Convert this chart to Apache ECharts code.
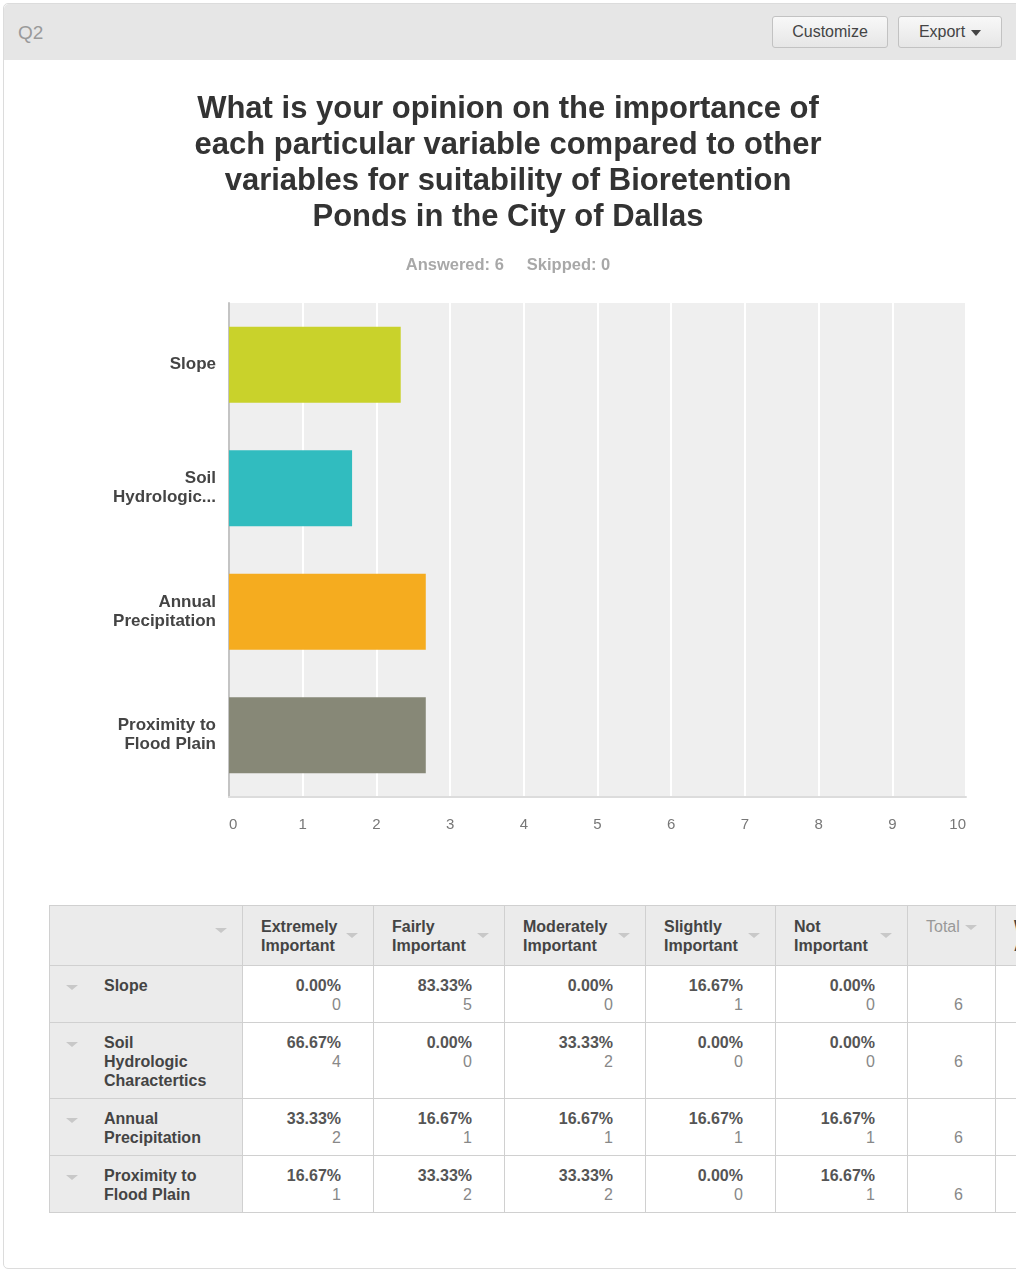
<!DOCTYPE html>
<html>
<head>
<meta charset="utf-8">
<title>Q2</title>
<script src="https://cdn.jsdelivr.net/npm/echarts@6/dist/echarts.min.js"></script>
<style>
html, body { margin: 0; padding: 0; width: 1016px; height: 1270px; overflow: hidden; background: #fff;
  font-family: "Liberation Sans", Arial, sans-serif; }
.frame { position: absolute; left: 3px; top: 3px; width: 1060px; height: 1264px; border: 1px solid #dcdcdc; border-radius: 5px; }
.head { position: absolute; left: 0; top: 0; right: 0; height: 56px; background: #e6e6e6; border-radius: 5px 5px 0 0; }
.q { position: absolute; left: 14px; top: 18px; font-size: 19px; color: #9a9a9a; }
.btn { position: absolute; top: 12px; height: 32px; box-sizing: border-box; border: 1px solid #c2c2c2; border-radius: 3px;
  background: linear-gradient(#f8f8f8, #e6e6e6); font-size: 16px; color: #444; line-height: 30px; text-align: center; }
.caret { display: inline-block; width: 0; height: 0; border-left: 5px solid transparent; border-right: 5px solid transparent;
  border-top: 6px solid #444; vertical-align: middle; margin-left: 6px; }
#chart { position: absolute; left: 0; top: 0; width: 1016px; height: 870px; }
.wrap { position: absolute; left: 49px; top: 905px; width: 1200px; }
table { border-collapse: collapse; table-layout: fixed; font-size: 16px; }
th, td { border: 1px solid #d0d0d0; vertical-align: top; line-height: 19px; padding: 10px 32px 8px 18px; position: relative;
  white-space: nowrap; overflow: hidden; }
th { background: #ebebeb; text-align: left; color: #444; font-weight: bold; padding-top: 11px; }
th.tot { color: #999; font-weight: normal; }
td.lab { background: #ebebeb; color: #444; font-weight: bold; padding-left: 54px; padding-right: 10px; }
td.val { text-align: right; }
td.tot { text-align: right; padding-top: 29px; color: #888; }
.pct { font-weight: bold; color: #555; }
.cnt { color: #888; }
.tri { position: absolute; width: 0; height: 0; border-left: 6px solid transparent; border-right: 6px solid transparent;
  border-top: 5px solid #c8c8c8; }
.tri.inl { position: static; display: inline-block; vertical-align: middle; margin-left: 5px; }
</style>
</head>
<body>
<div class="frame">
  <div class="head">
    <div class="q">Q2</div>
    <div class="btn" style="left:768px;width:116px;">Customize</div>
    <div class="btn" style="left:894px;width:104px;">Export<span class="caret"></span></div>
  </div>
</div>
<div id="chart"></div>
<div class="wrap"><table id="tbl"></table></div>
<script>
// question + answered / skipped
var titleLines = [
  "What is your opinion on the importance of",
  "each particular variable compared to other",
  "variables for suitability of Bioretention",
  "Ponds in the City of Dallas"
];
var answered = 6;
var skipped = 0;

// rows
var categories = ["Slope", "Soil\nHydrologic\nCharactertics", "Annual\nPrecipitation", "Proximity to\nFlood Plain"];
var axisNames = ["Slope", "Soil\nHydrologic...", "Annual\nPrecipitation", "Proximity to\nFlood Plain"];
var barColors = ["#c9d22b", "#31bcbf", "#f5ac1f", "#878877"];

// weighted average, drawn as the bars
var weightedAvg = [2.33, 1.67, 2.67, 2.67];
var xTicks = [0, 10, 1]; // min, max, step

// table columns
var choices = ["Extremely\nImportant", "Fairly\nImportant", "Moderately\nImportant", "Slightly\nImportant", "Not\nImportant"];
var rowPercents = [
  ["0.00%", "83.33%", "0.00%", "16.67%", "0.00%"],
  ["66.67%", "0.00%", "33.33%", "0.00%", "0.00%"],
  ["33.33%", "16.67%", "16.67%", "16.67%", "16.67%"],
  ["16.67%", "33.33%", "33.33%", "0.00%", "16.67%"]
];
var rowCounts = [
  [0, 5, 0, 1, 0],
  [4, 0, 2, 0, 0],
  [2, 1, 1, 1, 1],
  [1, 2, 2, 0, 1]
];
var totals = [6, 6, 6, 6];

var colWidths = [193, 131, 131, 141, 130, 132, 88, 140];

// ---- table ----
var tbl = document.getElementById("tbl");
var tw = colWidths.reduce(function (a, b) { return a + b; }, 0);
tbl.style.width = tw + "px";
var html = "<colgroup>";
colWidths.forEach(function (w) { html += '<col style="width:' + w + 'px">'; });
html += "</colgroup>";
html += '<tr style="height:60px"><th><span class="tri" style="right:15px;top:22px"></span></th>';
choices.forEach(function (c) {
  html += "<th>" + c.replace("\n", "<br>") + '<span class="tri" style="right:15px;top:27px"></span></th>';
});
html += '<th class="tot">Total<span class="tri inl"></span></th>';
html += "<th>Weighted<br>Average</th></tr>";
categories.forEach(function (name, i) {
  html += '<tr><td class="lab"><span class="tri" style="left:16px;top:19px"></span>' + name.split("\n").join("<br>") + "</td>";
  rowCounts[i].forEach(function (n, j) {
    html += '<td class="val"><div class="pct">' + rowPercents[i][j] + '</div><div class="cnt">' + n + "</div></td>";
  });
  html += '<td class="tot">' + totals[i] + "</td>";
  html += '<td class="tot">' + weightedAvg[i].toFixed(2) + "</td></tr>";
});
tbl.innerHTML = html;

// ---- chart ----
var font = '"Liberation Sans", Arial, sans-serif';
var chartObj = echarts.init(document.getElementById("chart"));
var option = {
  animation: false,
  textStyle: { fontFamily: font },
  title: [
    {
      text: titleLines.join("\n"),
      left: "center",
      top: 86,
      textStyle: { fontSize: 31, fontWeight: "bold", color: "#333", lineHeight: 36, fontFamily: font }
    },
    {
      text: "Answered: " + answered + "     Skipped: " + skipped,
      left: "center",
      top: 252,
      textStyle: { fontSize: 16.5, fontWeight: "bold", color: "#a8a8a8", fontFamily: font }
    }
  ],
  grid: {
    left: 229,
    right: 50,
    top: 303,
    bottom: 73,
    show: true,
    backgroundColor: "#efefef",
    borderWidth: 0
  },
  xAxis: {
    type: "value",
    min: xTicks[0],
    max: xTicks[1],
    interval: xTicks[2],
    axisLine: { show: true, lineStyle: { color: "#dcdcdc", width: 2 } },
    axisTick: { show: false },
    splitLine: { show: true, lineStyle: { color: "#ffffff", width: 2 } },
    axisLabel: { color: "#777", fontSize: 15, margin: 20, fontFamily: font, alignMinLabel: "left", alignMaxLabel: "right" }
  },
  yAxis: {
    type: "category",
    data: axisNames,
    inverse: true,
    axisLine: { show: true, lineStyle: { color: "#c4c4c4", width: 2 } },
    axisTick: { show: false },
    splitLine: { show: false },
    axisLabel: { color: "#444", fontSize: 17, fontWeight: "bold", lineHeight: 19, margin: 13, padding: [4, 0, 0, 0], fontFamily: font }
  },
  series: [{
    name: "Weighted Average",
    type: "bar",
    barWidth: 76,
    data: weightedAvg.map(function (v, i) {
      return { value: v, itemStyle: { color: barColors[i] } };
    })
  }]
};
chartObj.setOption(option);
window.addEventListener("resize", function () { chartObj.resize(); });
</script>
</body>
</html>
